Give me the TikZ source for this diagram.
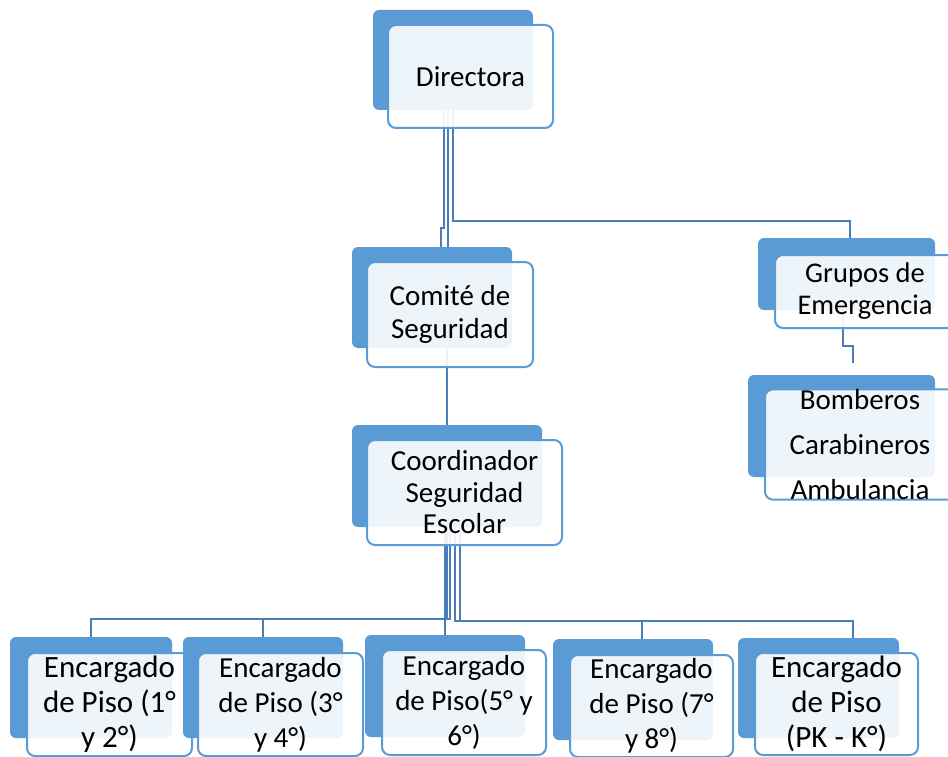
\documentclass[tikz,border=0pt]{standalone}
\usepackage{fontspec}
\setmainfont{Carlito}
\usetikzlibrary{backgrounds}

\definecolor{officeblue}{RGB}{91,155,213}
\definecolor{linkblue}{RGB}{74,126,187}

\begin{document}
\begin{tikzpicture}[x=1pt,y=-1pt,
  backbox/.style={fill=officeblue, rounded corners=6pt, inner sep=0pt},
  frontbox/.style={draw=officeblue, line width=2pt, fill=white, fill opacity=0.9, text opacity=1,
    rounded corners=8pt, inner sep=0pt, align=center, font=\fontsize{29}{33}\selectfont},
  link/.style={draw=linkblue, line width=2pt}]

\clip (0,0) rectangle (948,757);

% boxes
\node[backbox, minimum width=160pt, minimum height=100pt] (dirB) at (453,60) {};
\node[frontbox, minimum width=165pt, minimum height=103pt] (dir) at (470.5,76.5) {Directora};

\node[backbox, minimum width=160pt, minimum height=101pt] (comB) at (432,297.5) {};
\node[frontbox, minimum width=166pt, minimum height=105pt] (com) at (450,314.5) {Comité de\\Seguridad};

\node[backbox, minimum width=190pt, minimum height=102pt] (coordB) at (447,476) {};
\node[frontbox, minimum width=195pt, minimum height=105pt, font=\fontsize{29}{31.5}\selectfont] (coord) at (464.5,492.5) {Coordinador\\Seguridad\\Escolar};

\node[backbox, minimum width=177pt, minimum height=72pt] (grpB) at (846.5,274) {};
\node[frontbox, minimum width=180pt, minimum height=73pt, font=\fontsize{28.5}{32}\selectfont] (grp) at (865,291.5) {Grupos de\\Emergencia};

\node[backbox, minimum width=187pt, minimum height=102pt] (emerB) at (841.5,426) {};
\node[frontbox, minimum width=190pt, minimum height=105pt, font=\fontsize{29}{45}\selectfont] (emer) at (860,444.5) {Bomberos\\Carabineros\\Ambulancia};

\node[backbox, minimum width=162pt, minimum height=101pt] (p1B) at (91,687.5) {};
\node[frontbox, minimum width=165pt, minimum height=103pt, font=\fontsize{31}{35}\selectfont] (p1) at (109.5,704.5) {Encargado\\de Piso (1°\\y 2°)};

\node[backbox, minimum width=160pt, minimum height=101pt] (p2B) at (263,687.5) {};
\node[frontbox, minimum width=165pt, minimum height=103pt, font=\fontsize{29}{35}\selectfont] (p2) at (280.5,704.5) {Encargado\\de Piso (3°\\y 4°)};

\node[backbox, minimum width=160pt, minimum height=102pt] (p3B) at (445,686) {};
\node[frontbox, minimum width=164pt, minimum height=105pt, font=\fontsize{29}{35}\selectfont] (p3) at (464,702.5) {Encargado\\de Piso(5° y\\6°)};

\node[backbox, minimum width=160pt, minimum height=101pt] (p4B) at (633,689.5) {};
\node[frontbox, minimum width=163pt, minimum height=102pt, font=\fontsize{29}{35}\selectfont] (p4) at (651.5,706) {Encargado\\de Piso (7°\\y 8°)};

\node[backbox, minimum width=161pt, minimum height=100pt] (p5B) at (818.5,688) {};
\node[frontbox, minimum width=163pt, minimum height=102pt, font=\fontsize{31}{35}\selectfont] (p5) at (836.5,704) {Encargado\\de Piso\\(PK - K°)};

% connectors
\begin{scope}[on background layer]
\draw[link] ([xshift=-9pt]dirB.south) -- ++(0,118) -| ([xshift=9pt]comB.north);
\draw[link] ([xshift=-5pt]dirB.south) -- ([xshift=16pt]comB.north);
\draw[link] (dirB.south) -- ++(0,111) -| ([xshift=3.5pt]grpB.north);

\draw[link] ([xshift=15pt]comB.south) -- (coordB.north);

\draw[link] ([xshift=-3.5pt]grpB.south) -- ++(0,36) -| ([xshift=11.5pt,yshift=12pt]emerB.north);

\draw[link] (coordB.south) -- ++(0,92) -| (p1B.north);
\draw[link] ([xshift=3pt]coordB.south) -- ++(0,92) -| (p2B.north);
\draw[link] ([xshift=-2pt]coordB.south) -- (p3B.north);
\draw[link] ([xshift=8pt]coordB.south) -- ++(0,94) -| ([xshift=9pt]p4B.north);
\draw[link] ([xshift=13pt]coordB.south) -- ++(0,94) -| ([xshift=34.5pt]p5B.north);
\end{scope}

\end{tikzpicture}
\end{document}
